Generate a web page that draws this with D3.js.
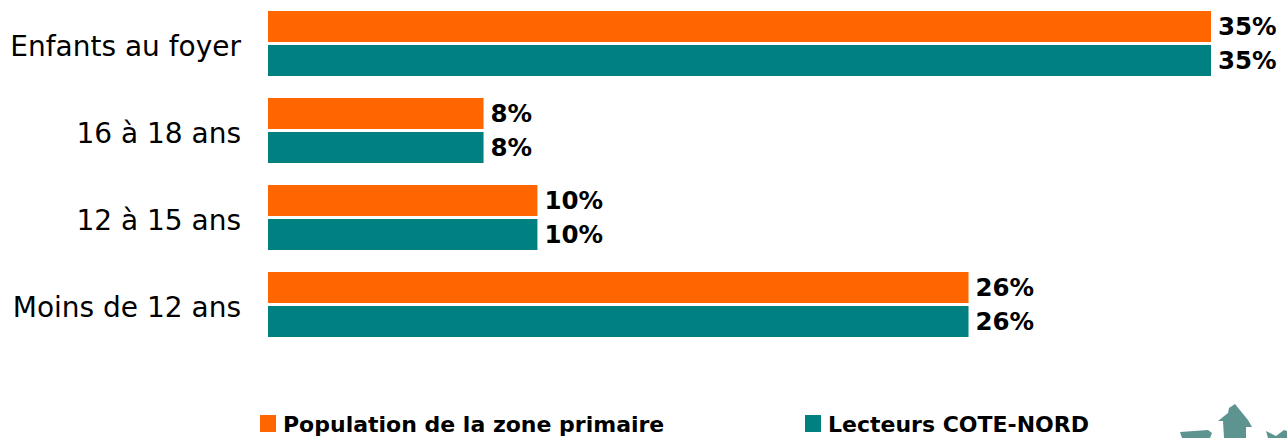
<!DOCTYPE html>
<html>
<head>
<meta charset="utf-8">
<script src="https://cdn.jsdelivr.net/npm/d3@7"></script>
<style>
  body { margin: 0; background: #fff; }
  svg { display: block; font-family: "DejaVu Sans", Verdana, sans-serif; }
</style>
</head>
<body>
<script>
// data
var categories = ["Enfants au foyer", "16 à 18 ans", "12 à 15 ans", "Moins de 12 ans"];
var seriesNames = ["Population de la zone primaire", "Lecteurs COTE-NORD"];
var populationValues = [35, 8, 10, 26];
var lecteursValues = [35, 8, 10, 26];

var colors = ["#FF6600", "#008080"];

var width = 1287, height = 438;

var svg = d3.select("body")
    .append("svg")
    .attr("width", width)
    .attr("height", height);

// scales
var x = d3.scaleLinear().domain([0, 35]).range([268, 1211]);
var y = d3.scaleBand().domain(categories).range([11, 337]).paddingInner(22 / 87);
var ySub = d3.scaleBand().domain(seriesNames).range([0, y.bandwidth()]).paddingInner(3 / 34);

var rows = categories.map(function(c, i) {
    return {cat: c, vals: [
        {name: seriesNames[0], v: populationValues[i], color: colors[0]},
        {name: seriesNames[1], v: lecteursValues[i], color: colors[1]}
    ]};
});

var groups = svg.selectAll(".grp")
    .data(rows)
    .enter()
    .append("g")
    .attr("class", "grp")
    .attr("transform", function(d) { return "translate(0," + y(d.cat) + ")"; });

groups.selectAll("rect")
    .data(function(d) { return d.vals; })
    .enter()
    .append("rect")
    .attr("x", x(0))
    .attr("y", function(d) { return ySub(d.name); })
    .attr("width", function(d) { return x(d.v) - x(0); })
    .attr("height", ySub.bandwidth())
    .attr("fill", function(d) { return d.color; });

// value labels
groups.selectAll(".val")
    .data(function(d) { return d.vals; })
    .enter()
    .append("text")
    .attr("class", "val")
    .attr("x", function(d) { return x(d.v) + 7; })
    .attr("y", function(d) { return ySub(d.name) + ySub.bandwidth() / 2; })
    .attr("dy", "0.36em")
    .style("font-size", "24.5px")
    .style("font-weight", "bold")
    .style("fill", "#000")
    .text(function(d) { return d.v + "%"; });

// category labels
groups.append("text")
    .attr("x", 241)
    .attr("y", y.bandwidth() / 2 + 2)
    .attr("dy", "0.36em")
    .attr("text-anchor", "end")
    .style("font-size", "28px")
    .style("fill", "#000")
    .text(function(d) { return d.cat; });

// legend
var legendX = [260, 805];
var legend = svg.selectAll(".leg")
    .data(seriesNames)
    .enter()
    .append("g")
    .attr("class", "leg")
    .attr("transform", function(d, i) { return "translate(" + legendX[i] + ",415)"; });

legend.append("rect")
    .attr("width", 16)
    .attr("height", 17)
    .attr("fill", function(d, i) { return colors[i]; });

legend.append("text")
    .attr("x", 23)
    .attr("y", 17)
    .style("font-size", "22px")
    .style("font-weight", "bold")
    .style("fill", "#000")
    .text(function(d) { return d; });

// logo fragment, bottom right
svg.append("path")
    .attr("d", "M1180,432 L1208,430 L1212,433 L1210,438 L1182,438 Z " +
               "M1218,421 L1228,413 L1229,408 L1235,404 L1248,420 L1252,427 L1246,427 L1246,438 L1224,438 L1223,421 Z " +
               "M1266,431 L1276,436 L1284,430 L1287,431 L1287,438 L1268,438 Z")
    .attr("fill", "#5E9490");
</script>
</body>
</html>
